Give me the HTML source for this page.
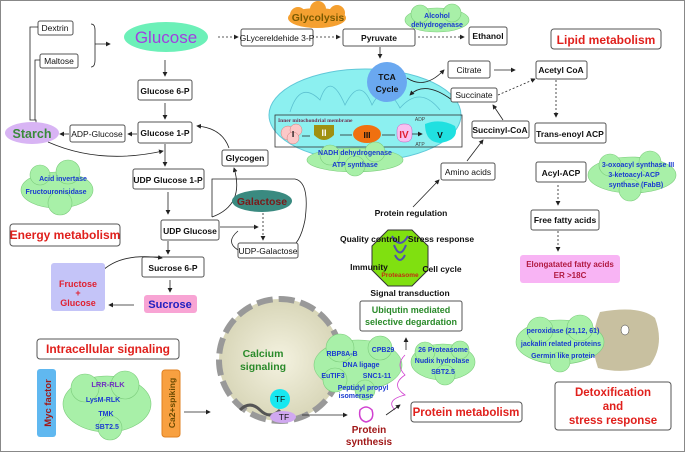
<!DOCTYPE html>
<html><head><meta charset="utf-8"><style>
body{margin:0;background:#fff}
svg{display:block;font-family:"Liberation Sans",Arial,sans-serif}
.b{fill:#fff;stroke:#555;stroke-width:1}
.t{font-size:8.5px;fill:#111;text-anchor:middle}
.tb{font-size:8.5px;fill:#111;text-anchor:middle;font-weight:bold}
.bl{font-size:7px;fill:#1a3bd0;text-anchor:middle;font-weight:bold}
.red{fill:#e0201c;font-weight:bold;text-anchor:middle}
.cl{fill:#a8f0a8;stroke:#7ccc7c;stroke-width:0.6}
.ln{stroke:#222;stroke-width:0.8;fill:none}
.ds{stroke:#222;stroke-width:0.8;fill:none;stroke-dasharray:2,2}
</style></head><body>
<svg width="685" height="452" viewBox="0 0 685 452">
<defs><marker id="a" markerWidth="6" markerHeight="6" refX="5" refY="3" orient="auto"><path d="M0,0L6,3L0,6z" fill="#222"/></marker>
<radialGradient id="cg"><stop offset="0" stop-color="#f4f2e0"/><stop offset="1" stop-color="#d8d6b8"/></radialGradient></defs>
<rect x="0.5" y="0.5" width="684" height="451" fill="#fff" stroke="#888"/>

<!-- top left -->
<rect class="b" x="38" y="21" width="35" height="14" rx="2"/><text class="t" x="55" y="31">Dextrin</text>
<rect class="b" x="40" y="54" width="38" height="14" rx="2"/><text class="t" x="59" y="64">Maltose</text>
<path class="ln" d="M38,27H30V120H36V126M40,60H35V120"/>
<path class="ln" d="M91,24Q95,24 95,30V60Q95,67 91,67M95,44H110" marker-end="url(#a)"/>
<ellipse cx="166" cy="37" rx="42" ry="15" fill="#6cf0b8"/>
<text x="166" y="43" font-size="17" fill="#a040e0" text-anchor="middle">Glucose</text>
<path class="ds" d="M218,37H238" marker-end="url(#a)"/>
<rect class="b" x="241" y="29" width="72" height="17" rx="2"/><text class="t" x="277" y="41" font-size="8">GLycereldehide 3-P</text>
<path class="ds" d="M316,37H340" marker-end="url(#a)"/>
<rect class="b" x="343" y="29" width="72" height="17" rx="2"/><text class="tb" x="379" y="41">Pyruvate</text>
<g fill="#f5a030"><ellipse cx="317" cy="18" rx="29" ry="10"/><circle cx="298" cy="15" r="8"/><circle cx="337" cy="13" r="8"/><circle cx="318" cy="9" r="8"/></g>
<text x="318" y="21" font-size="10.5" font-weight="bold" fill="#7a5a00" text-anchor="middle">Glycolysis</text>
<g class="cl"><ellipse cx="437" cy="20" rx="32" ry="12"/><circle cx="420" cy="14" r="9"/><circle cx="452" cy="13" r="9"/></g>
<text class="bl" x="437" y="18">Alcohol</text><text class="bl" x="437" y="27">dehydrogenase</text>
<path class="ds" d="M418,37H464" marker-end="url(#a)"/>
<rect class="b" x="469" y="27" width="38" height="18" rx="2"/><text class="tb" x="488" y="39">Ethanol</text>
<rect class="b" x="551" y="29" width="110" height="20" rx="3"/><text class="red" x="606" y="44" font-size="12">Lipid metabolism</text>

<!-- left chain -->
<path class="ln" d="M165,60V76" marker-end="url(#a)"/>
<rect class="b" x="138" y="80" width="54" height="20" rx="2"/><text class="tb" x="165" y="94">Glucose 6-P</text>
<path class="ln" d="M165,103V119" marker-end="url(#a)"/>
<rect class="b" x="138" y="122" width="54" height="21" rx="2"/><text class="tb" x="165" y="136">Glucose 1-P</text>
<path class="ln" d="M137,134H128" marker-end="url(#a)"/>
<rect class="b" x="70" y="125" width="55" height="17" rx="2"/><text class="t" x="97" y="137">ADP-Glucose</text>
<path class="ln" d="M69,134H60" marker-end="url(#a)"/>
<ellipse cx="32" cy="133" rx="27" ry="11" fill="#d8b4f4"/>
<text x="32" y="138" font-size="12.5" font-weight="bold" fill="#3a8a3a" text-anchor="middle">Starch</text>
<path class="ln" d="M48,142Q100,165 163,151" marker-end="url(#a)"/>
<path class="ln" d="M229,148Q222,128 197,126" marker-end="url(#a)"/>
<rect class="b" x="222" y="150" width="46" height="16" rx="2"/><text class="tb" x="245" y="161">Glycogen</text>
<path class="ln" d="M165,144V166" marker-end="url(#a)"/>
<g class="cl"><ellipse cx="57" cy="190" rx="36" ry="18"/><circle cx="40" cy="175" r="10"/><circle cx="68" cy="172" r="12"/><circle cx="60" cy="203" r="12"/></g>
<text class="bl" x="63" y="181">Acid invertase</text><text class="bl" x="56" y="194">Fructouronisidase</text>
<rect class="b" x="133" y="169" width="71" height="20" rx="2"/><text class="tb" x="168" y="183">UDP Glucose 1-P</text>
<path class="ln" d="M168,192V214" marker-end="url(#a)"/>
<path class="ln" d="M212,217Q245,205 234,168" marker-end="url(#a)"/>
<path class="ln" d="M212,217V179H295Q310,182 305,220Q300,245 288,249" marker-end="url(#a)"/>
<ellipse cx="262" cy="201" rx="30" ry="11" fill="#3a8a80"/>
<text x="262" y="205" font-size="10.5" font-weight="bold" fill="#7a1a1a" text-anchor="middle">Galactose</text>
<path class="ds" d="M263,213V240" marker-end="url(#a)"/>
<rect class="b" x="161" y="220" width="58" height="20" rx="2"/><text class="tb" x="190" y="234">UDP Glucose</text>
<path class="ln" d="M220,227H258" marker-end="url(#a)"/>
<path class="ln" d="M238,231Q225,242 238,250"/>
<rect class="b" x="238" y="243" width="60" height="15" rx="2"/><text class="t" x="268" y="254" font-size="8">UDP-Galactose</text>
<rect class="b" x="10" y="224" width="110" height="22" rx="3"/><text class="red" x="65" y="239" font-size="12">Energy metabolism</text>
<path class="ln" d="M168,241V254" marker-end="url(#a)"/>
<rect class="b" x="142" y="257" width="62" height="20" rx="2"/><text class="tb" x="173" y="271">Sucrose 6-P</text>
<path class="ln" d="M100,273Q120,252 162,258" marker-end="url(#a)"/>
<path class="ln" d="M170,280V292" marker-end="url(#a)"/>
<rect x="51" y="263" width="54" height="48" rx="3" fill="#c4c4f8"/>
<text x="78" y="287" font-size="9" font-weight="bold" fill="#e02030" text-anchor="middle">Fructose</text>
<text x="78" y="296" font-size="9" font-weight="bold" fill="#e02030" text-anchor="middle">+</text>
<text x="78" y="306" font-size="9" font-weight="bold" fill="#e02030" text-anchor="middle">Glucose</text>
<path class="ln" d="M134,305H109" marker-end="url(#a)"/>
<rect x="144" y="295" width="53" height="18" rx="3" fill="#f8a4d4"/>
<text x="170" y="308" font-size="11" font-weight="bold" fill="#2020c0" text-anchor="middle">Sucrose</text>

<!-- mitochondrion -->
<path class="ln" d="M380,47V58" marker-end="url(#a)"/>
<ellipse cx="365" cy="115" rx="96" ry="46" fill="#8cf0f0" stroke="#60c8d8"/>
<path d="M290,112Q300,80 320,100Q330,70 345,105Q360,75 372,105Q385,80 400,108Q420,85 440,110" fill="none" stroke="#5cc0d0" stroke-width="0.8"/>
<circle cx="387" cy="82" r="20" fill="#6aa8f0"/>
<text class="tb" x="387" y="80" font-size="10">TCA</text><text class="tb" x="387" y="92" font-size="10">Cycle</text>
<path class="ln" d="M407,78Q425,90 444,70" marker-end="url(#a)"/>
<path class="ln" d="M452,100Q425,80 410,95" marker-end="url(#a)"/>
<rect x="275" y="115" width="187" height="32" fill="none" stroke="#333" stroke-width="0.8"/>
<text x="278" y="122" font-size="5.5" fill="#703050" font-family="Liberation Serif" font-weight="bold">Inner mitochondrial membrane</text>
<g fill="#fcc8c8" stroke="#d08080" stroke-width="0.5"><circle cx="288" cy="133" r="7"/><circle cx="296" cy="130" r="6"/><circle cx="293" cy="138" r="6"/></g>
<text class="tb" x="293" y="137">I</text>
<path d="M314,125H334V135Q324,145 314,135z" fill="#a09010"/><text x="324" y="136" font-size="9" font-weight="bold" fill="#fff" text-anchor="middle">II</text>
<ellipse cx="367" cy="134" rx="14" ry="9" fill="#f07010"/><text class="tb" x="367" y="138">III</text>
<rect x="397" y="124" width="15" height="18" rx="6" fill="#f8c0f0" stroke="#c060c0" stroke-width="0.5"/><text x="404" y="138" font-size="10" font-weight="bold" fill="#e02030" text-anchor="middle">IV</text>
<path d="M425,124Q440,118 455,126Q460,140 440,143Q425,142 425,124z" fill="#20e0e0"/><text class="tb" x="440" y="138" font-size="12">V</text>
<path class="ln" d="M302,136H310M340,135H352M382,135H395M412,134H422" marker-end="url(#a)"/>
<text x="420" y="121" font-size="5" fill="#444" text-anchor="middle">ADP</text><text x="420" y="146" font-size="5" fill="#444" text-anchor="middle">ATP</text>
<g class="cl"><ellipse cx="355" cy="160" rx="48" ry="12"/><circle cx="330" cy="155" r="10"/><circle cx="375" cy="152" r="10"/><circle cx="355" cy="166" r="10"/></g>
<text class="bl" x="355" y="155">NADH dehydrogenase</text><text class="bl" x="355" y="167">ATP synthase</text>

<!-- lipid -->
<rect class="b" x="448" y="61" width="42" height="17" rx="2"/><text class="t" x="469" y="73">Citrate</text>
<path class="ln" d="M494,70H515" marker-end="url(#a)"/>
<rect class="b" x="451" y="88" width="46" height="14" rx="2"/><text class="t" x="474" y="98" font-size="8">Succinate</text>
<path class="ds" d="M498,95L535,79" marker-end="url(#a)"/>
<rect class="b" x="536" y="61" width="51" height="18" rx="2"/><text class="tb" x="561" y="73">Acetyl CoA</text>
<path class="ds" d="M556,80V117" marker-end="url(#a)"/>
<rect class="b" x="472" y="121" width="57" height="17" rx="2"/><text class="tb" x="500" y="133">Succinyl-CoA</text>
<path class="ln" d="M503,120L493,105" marker-end="url(#a)"/>
<rect class="b" x="535" y="123" width="71" height="20" rx="2"/><text class="tb" x="570" y="137">Trans-enoyl ACP</text>
<rect class="b" x="441" y="163" width="54" height="17" rx="2"/><text class="t" x="468" y="175">Amino acids</text>
<path class="ln" d="M467,161L483,140" marker-end="url(#a)"/>
<path class="ln" d="M413,207L439,180" marker-end="url(#a)"/>
<rect class="b" x="536" y="162" width="50" height="20" rx="2"/><text class="tb" x="561" y="176">Acyl-ACP</text>
<g class="cl"><ellipse cx="632" cy="175" rx="44" ry="18"/><circle cx="610" cy="165" r="11"/><circle cx="650" cy="162" r="11"/><circle cx="630" cy="190" r="11"/></g>
<text class="bl" x="638" y="167">3-oxoacyl synthase III</text><text class="bl" x="634" y="177">3-ketoacyl-ACP</text><text class="bl" x="636" y="187">synthase (FabB)</text>
<path class="ds" d="M558,185V205" marker-end="url(#a)"/>
<rect class="b" x="531" y="210" width="68" height="20" rx="2"/><text class="tb" x="565" y="223">Free fatty acids</text>
<path class="ds" d="M558,231V251" marker-end="url(#a)"/>
<rect x="520" y="255" width="100" height="28" rx="3" fill="#f8b4f4"/>
<text x="570" y="267" font-size="8" font-weight="bold" fill="#b01840" text-anchor="middle">Elongatated fatty acids</text>
<text x="570" y="278" font-size="8" font-weight="bold" fill="#b01840" text-anchor="middle">ER &gt;18C</text>

<!-- proteasome -->
<polygon points="388,230 412,230 428,246 428,270 412,286 388,286 372,270 372,246" fill="#80e010" stroke="#333"/>
<path d="M392,236Q400,250 408,236M394,245Q400,260 406,245M395,255Q400,265 405,255" fill="none" stroke="#5050b0" stroke-width="2"/>
<text x="400" y="277" font-size="6.5" font-weight="bold" fill="#c03010" text-anchor="middle">Proteasome</text>
<text class="tb" x="411" y="216" font-size="7.5">Protein regulation</text>
<text class="tb" x="370" y="242" font-size="7.5" text-anchor="end">Quality control</text>
<text class="tb" x="441" y="242" font-size="7.5" text-anchor="start">Stress response</text>
<text class="tb" x="369" y="270" font-size="7.5" text-anchor="end">Immunity</text>
<text class="tb" x="442" y="272" font-size="7.5" text-anchor="start">Cell cycle</text>
<text class="tb" x="410" y="296" font-size="7.5">Signal transduction</text>
<rect class="b" x="360" y="301" width="102" height="30" rx="2"/>
<text x="411" y="313" font-size="9" font-weight="bold" fill="#2a8a2a" text-anchor="middle">Ubiqutin mediated</text>
<text x="411" y="325" font-size="9" font-weight="bold" fill="#2a8a2a" text-anchor="middle">selective degardation</text>

<!-- bottom -->
<rect class="b" x="37" y="339" width="142" height="20" rx="3"/><text class="red" x="108" y="353" font-size="12">Intracellular signaling</text>
<rect x="37" y="369" width="19" height="68" rx="3" fill="#60b8f0"/>
<text transform="translate(51,403) rotate(-90)" font-size="9.5" font-weight="bold" fill="#a01818" text-anchor="middle">Myc factor</text>
<g class="cl"><ellipse cx="107" cy="404" rx="44" ry="28"/><circle cx="85" cy="388" r="14"/><circle cx="125" cy="385" r="14"/><circle cx="110" cy="428" r="12"/></g>
<text x="108" y="387" font-size="7.5" font-weight="bold" fill="#7030c0" text-anchor="middle">LRR-RLK</text>
<text class="bl" x="103" y="402">LysM-RLK</text><text class="bl" x="106" y="416">TMK</text><text class="bl" x="107" y="429">SBT2.5</text>
<rect x="162" y="370" width="18" height="67" rx="3" fill="#f8a040" stroke="#e08020"/>
<text transform="translate(175,403) rotate(-90)" font-size="8.5" font-weight="bold" fill="#6a4a00" text-anchor="middle">Ca2+spiking</text>
<path class="ln" d="M184,412H210" marker-end="url(#a)"/>
<circle cx="280" cy="360" r="61" fill="url(#cg)" stroke="#999" stroke-width="6" stroke-dasharray="16,6"/>
<text x="263" y="357" font-size="10.5" font-weight="bold" fill="#2a8a2a" text-anchor="middle">Calcium</text>
<text x="263" y="370" font-size="10.5" font-weight="bold" fill="#2a8a2a" text-anchor="middle">signaling</text>
<path d="M240,410Q250,400 260,410T280,410" fill="none" stroke="#555" stroke-width="3"/>
<circle cx="280" cy="399" r="10" fill="#18e8f0"/><text class="t" x="280" y="402">TF</text>
<ellipse cx="283" cy="417" rx="13" ry="6" fill="#d0a8f0"/><text class="t" x="284" y="420">TF</text>
<path class="ln" d="M302,415H347" marker-end="url(#a)"/>
<g class="cl"><ellipse cx="358" cy="365" rx="44" ry="25"/><circle cx="340" cy="348" r="14"/><circle cx="380" cy="348" r="12"/><circle cx="335" cy="380" r="12"/><circle cx="365" cy="390" r="10"/></g>
<text class="bl" x="342" y="356">RBP8A-B</text><text class="bl" x="383" y="352">CPB29</text><text class="bl" x="361" y="367">DNA ligage</text>
<text class="bl" x="333" y="378">EuTIF3</text><text class="bl" x="377" y="378">SNC1-11</text>
<text class="bl" x="363" y="390">Peptidyl propyl</text><text class="bl" x="356" y="398">isomerase</text>
<path d="M395,410Q385,400 405,395Q390,385 405,375Q395,365 405,355" fill="none" stroke="#d040d0" stroke-width="0.8"/>
<path d="M360,410Q366,404 372,410Q375,420 366,422Q358,420 360,410z" fill="none" stroke="#d040d0" stroke-width="1.5"/>
<path class="ln" d="M406,350V338" marker-end="url(#a)"/>
<path class="ln" d="M386,415L400,405" marker-end="url(#a)"/>
<text x="369" y="433" font-size="10" font-weight="bold" fill="#a01818" text-anchor="middle">Protein</text>
<text x="369" y="445" font-size="10" font-weight="bold" fill="#a01818" text-anchor="middle">synthesis</text>
<g class="cl"><ellipse cx="443" cy="362" rx="32" ry="18"/><circle cx="425" cy="352" r="10"/><circle cx="460" cy="350" r="9"/><circle cx="445" cy="375" r="10"/></g>
<text class="bl" x="443" y="352">26 Proteasome</text><text class="bl" x="442" y="363">Nudix hydrolase</text><text class="bl" x="443" y="374">SBT2.5</text>
<rect class="b" x="411" y="402" width="111" height="20" rx="3"/><text class="red" x="466" y="416" font-size="11.5">Protein metabolism</text>
<path d="M600,312Q640,305 655,318Q665,345 650,365Q625,375 598,368Q588,340 600,312z" fill="#c8c0a0"/>
<ellipse cx="625" cy="330" rx="4" ry="5" fill="#fff" stroke="#333" stroke-width="0.5"/>
<g class="cl"><ellipse cx="560" cy="342" rx="44" ry="22"/><circle cx="540" cy="330" r="13"/><circle cx="580" cy="328" r="13"/><circle cx="560" cy="362" r="10"/></g>
<text class="bl" x="563" y="333">peroxidase (21,12, 61)</text><text class="bl" x="561" y="346">jackalin related proteins</text><text class="bl" x="563" y="358">Germin like protein</text>
<rect class="b" x="555" y="382" width="116" height="48" rx="3"/>
<text class="red" x="613" y="396" font-size="11.5">Detoxification</text>
<text class="red" x="613" y="410" font-size="11.5">and</text>
<text class="red" x="613" y="424" font-size="11.5">stress response</text>
</svg>
</body></html>
